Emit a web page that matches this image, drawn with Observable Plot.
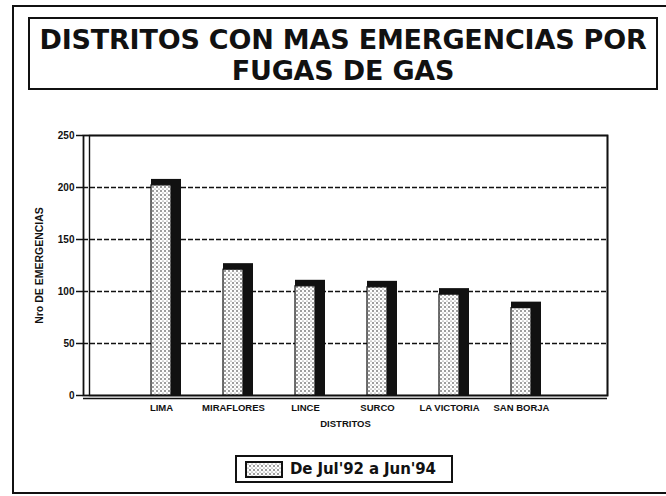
<!DOCTYPE html>
<html>
<head>
<meta charset="utf-8">
<script src="https://cdn.jsdelivr.net/npm/d3@7"></script>
<script src="https://cdn.jsdelivr.net/npm/@observablehq/plot@0.6"></script>
<style>
  html, body { margin: 0; padding: 0; background: #fff; }
  body { width: 666px; height: 496px; position: relative; overflow: hidden; font-family: "Liberation Sans", Arial, sans-serif; }
  #outer { position: absolute; left: 12px; top: 5px; width: 654px; height: 489px; border-left: 2px solid #111; border-top: 2px solid #111; border-bottom: 2px solid #111; box-sizing: border-box; }
  #title { position: absolute; left: 28px; top: 17px; width: 630px; height: 73px; border: 2px solid #111; box-sizing: border-box; text-align: center; font-family: "DejaVu Sans", sans-serif; font-weight: bold; font-size: 27px; line-height: 31px; padding-top: 5px; color: #111; letter-spacing: -0.2px; }
  #chart { position: absolute; left: 0; top: 90px; }
  #legend { position: absolute; left: 235px; top: 455px; width: 218px; height: 28px; border: 2px solid #111; box-sizing: border-box; font-family: "DejaVu Sans", sans-serif; font-weight: bold; font-size: 15px; color: #111; }
  #legend svg { position: absolute; left: 8px; top: 4px; }
  #legend span { position: absolute; left: 53px; top: 3px; letter-spacing: -0.1px; }
</style>
</head>
<body>
<div id="outer"></div>
<div id="title">DISTRITOS CON MAS EMERGENCIAS POR<br>FUGAS DE GAS</div>
<div id="chart"></div>
<div id="legend"><svg width="38" height="17"><defs><pattern id="dotsL" width="4" height="4" patternUnits="userSpaceOnUse"><rect width="4" height="4" fill="#fff"/><circle cx="1" cy="1" r="0.8" fill="#222"/><circle cx="3" cy="3" r="0.6" fill="#555"/></pattern></defs><rect x="1" y="1" width="36" height="15" fill="url(#dotsL)" stroke="#111" stroke-width="2"/></svg><span id="legtext"></span></div>
<script>
const distritos = ["LIMA", "MIRAFLORES", "LINCE", "SURCO", "LA VICTORIA", "SAN BORJA"];
const emergencias = [202, 121, 105, 104, 97, 84];
const yTicks = [0, 50, 100, 150, 200, 250];
const serie = "De Jul'92 a Jun'94";
const yLabel = "Nro DE EMERGENCIAS";
const xLabel = "DISTRITOS";

const data = distritos.map((d, i) => ({distrito: d, valor: emergencias[i]}));
document.getElementById("legtext").textContent = serie;

const chart = Plot.plot({
  width: 666,
  height: 355,
  marginTop: 45,
  marginBottom: 50,
  marginLeft: 83,
  marginRight: 59,
  style: {fontFamily: "'Liberation Sans', Arial, sans-serif", color: "#111", background: "transparent"},
  x: {domain: distritos, paddingInner: 0.722, paddingOuter: 0.986, align: 0.47, label: null},
  y: {domain: [0, 250], ticks: yTicks, label: null},
  marks: [
    Plot.gridY(yTicks.filter(t => t > 0 && t < 250), {stroke: "#111", strokeOpacity: 1, strokeWidth: 1.6, strokeDasharray: "5,2"}),
    Plot.frame({stroke: "#111", strokeWidth: 1.8}),
    Plot.frame({stroke: "#111", strokeWidth: 1.4, insetLeft: 6}),
    Plot.ruleY([0], {stroke: "#111", strokeWidth: 1.4, dy: 3}),
    Plot.barY(data, {x: "distrito", y: "valor", fill: "#111", insetTop: -6, insetRight: -10}),
    Plot.barY(data, {x: "distrito", y: "valor", fill: "url(#dots)", stroke: "#111", strokeWidth: 1.2}),
    Plot.axisY({ticks: yTicks, tickSize: 7, tickPadding: 2, fontSize: 10, fontWeight: "bold", label: yLabel, labelAnchor: "center", labelOffset: 48, labelArrow: "none", strokeWidth: 1.5}),
    Plot.axisX({tickSize: 0, tickPadding: 9, fontSize: 9.5, fontWeight: "bold", label: xLabel, labelAnchor: "center", labelOffset: 31, labelArrow: "none"})
  ]
});

const defs = d3.select(chart).insert("defs", ":first-child");
const pat = defs.append("pattern").attr("id", "dots").attr("width", 4).attr("height", 4).attr("patternUnits", "userSpaceOnUse");
pat.append("rect").attr("width", 4).attr("height", 4).attr("fill", "#fff");
pat.append("circle").attr("cx", 1).attr("cy", 1).attr("r", 0.8).attr("fill", "#222");
pat.append("circle").attr("cx", 3).attr("cy", 3).attr("r", 0.6).attr("fill", "#555");

d3.select(chart).selectAll("[aria-label='y-axis label'] text").attr("font-weight", "bold").attr("font-size", 10.5);
d3.select(chart).selectAll("[aria-label='x-axis label'] text").attr("font-weight", "bold").attr("font-size", 9.5);

document.getElementById("chart").appendChild(chart);
</script>
</body>
</html>
